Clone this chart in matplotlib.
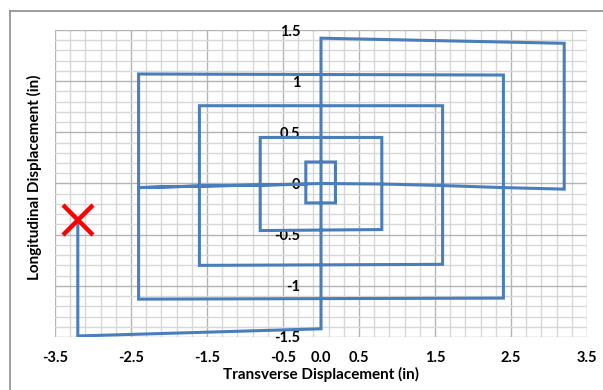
import numpy as np
import matplotlib
matplotlib.use('Agg')
import matplotlib.pyplot as plt
from matplotlib.lines import Line2D

plt.rcParams['font.family'] = ['Lato', 'DejaVu Sans']

# path of the vehicle, starting at the red cross and spiralling inward
path_x = [-3.2, -3.2, 0.0, 0.0, 3.2, 3.2,
          2.4, 1.6, 0.8, 0.0, -0.8, -1.6, -2.4,
          -2.4, 2.4, 2.4, -2.4, -2.4,
          -1.6, -1.6, 1.6, 1.6, -1.6, -1.6,
          -0.8, -0.8, 0.8, 0.8, -0.8, -0.8,
          -0.2, -0.2, 0.19, 0.19, -0.2, -0.2]
path_y = [-0.36, -1.49, -1.42, 1.42, 1.37, -0.055,
          -0.04, -0.02, -0.005, 0.0, -0.015, -0.025, -0.04,
          -1.13, -1.12, 1.06, 1.07, -0.04,
          -0.025, -0.80, -0.79, 0.76, 0.76, -0.025,
          -0.015, -0.46, -0.45, 0.45, 0.45, -0.015,
          -0.008, -0.19, -0.19, 0.21, 0.21, -0.008]
start_x = [-3.2]
start_y = [-0.36]

x_ticks = [-3.5, -2.5, -1.5, -0.5, 0.0, 0.5, 1.5, 2.5, 3.5]
x_labels = ['-3.5', '-2.5', '-1.5', '-0.5', '0.0', '0.5', '1.5', '2.5', '3.5']
y_ticks = [-1.5, -1, -0.5, 0, 0.5, 1, 1.5]
y_labels = ['-1.5', '-1', '-0.5', '0', '0.5', '1', '1.5']

fig = plt.figure(figsize=(6.03, 3.9), dpi=100)
ax = fig.add_axes([55/603, 53/390, 532/603, 307/390])

# graph-paper grid: minor 0.2 x 0.1, major 1.0 x 0.5
for xv in np.arange(-3.5, 3.51, 0.2):
    major = abs((xv + 3.5) - round(xv + 3.5)) < 1e-6
    ax.axvline(xv, color='#b4b4b4' if major else '#d8d8d8', lw=1.0, zorder=0)
for yv in np.arange(-1.5, 1.51, 0.1):
    major = abs(yv * 2 - round(yv * 2)) < 1e-6
    ax.axhline(yv, color='#b4b4b4' if major else '#d8d8d8', lw=1.0, zorder=0)

ax.plot(path_x, path_y, color='#4a7ebb', lw=2.2, solid_joinstyle='miter', zorder=3)
ax.plot(start_x, start_y, 'x', color='#ff0000', ms=21, mew=3.2, zorder=4)

ax.set_xlim(-3.5, 3.5)
ax.set_ylim(-1.5, 1.5)
for s in ax.spines.values():
    s.set_visible(False)
ax.spines['left'].set_position(('data', 0))

ax.set_xticks(x_ticks)
ax.set_xticklabels(x_labels, fontsize=10.5, fontweight='bold')
ax.set_yticks(y_ticks)
ax.set_yticklabels(y_labels, fontsize=10.5, fontweight='bold')
ax.tick_params(axis='x', length=0, pad=10)
ax.tick_params(axis='y', length=0, pad=15)

ax.set_xlabel('Transverse Displacement (in)', fontsize=11, fontweight='bold', va='center')
ax.xaxis.set_label_coords(0.5, -0.122)
ax.set_ylabel('Longitudinal Displacement (in)', fontsize=11, fontweight='bold', va='center')
ax.yaxis.set_label_coords(-0.0395, 0.52)

# chart frame
fig.add_artist(Line2D([9.5/603, 9.5/603], [0, 1 - 10.5/390], transform=fig.transFigure,
                      color='#8c8c8c', lw=1.2))
fig.add_artist(Line2D([9.5/603, 1], [1 - 10.5/390, 1 - 10.5/390], transform=fig.transFigure,
                      color='#8c8c8c', lw=1.2))

fig.savefig('out.png', dpi=100)
